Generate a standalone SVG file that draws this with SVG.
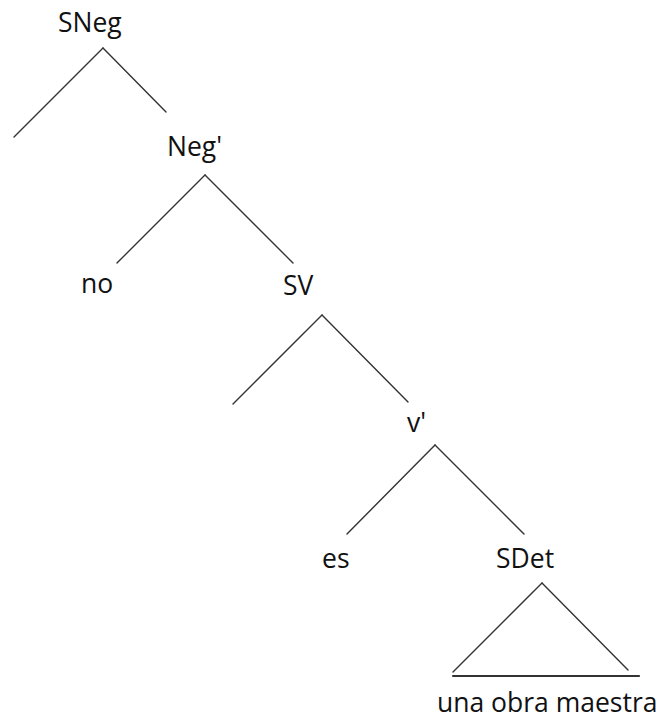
<svg xmlns="http://www.w3.org/2000/svg" width="665" height="721" viewBox="0 0 665 721">
<style>
text{font-family:"Open Sans","Noto Sans","Liberation Sans",sans-serif;font-size:26.5px;fill:#111}
.e line{stroke:#333;stroke-width:1.4;stroke-linecap:round}
</style>
<rect width="665" height="721" fill="#fff"/>
<g id="n-SNeg"><text x="58" y="32">SNeg</text></g>
<g id="n-Negbar"><text x="167" y="156">Neg'</text></g>
<g id="n-no"><text x="81" y="293">no</text></g>
<g id="n-SV"><text x="283" y="295">SV</text></g>
<g id="n-vbar"><text x="407" y="432">v'</text></g>
<g id="n-es"><text x="322" y="568">es</text></g>
<g id="n-SDet"><text x="496" y="568">SDet</text></g>
<g id="n-una"><text x="437" y="712">una obra maestra</text></g>
<g id="connectors" class="e">
<line x1="103" y1="48" x2="14" y2="137"/>
<line x1="103" y1="48" x2="166" y2="112"/>
<line x1="205" y1="175" x2="117" y2="263"/>
<line x1="205" y1="175" x2="293" y2="263"/>
<line x1="322" y1="315" x2="233" y2="404"/>
<line x1="322" y1="315" x2="408" y2="402"/>
<line x1="435" y1="445" x2="347" y2="534"/>
<line x1="435" y1="445" x2="524" y2="534"/>
<line x1="542" y1="583" x2="453" y2="672"/>
<line x1="542" y1="583" x2="628" y2="670"/>
<line x1="453" y1="676" x2="639" y2="676" style="stroke-width:2.2"/>
</g>
</svg>
